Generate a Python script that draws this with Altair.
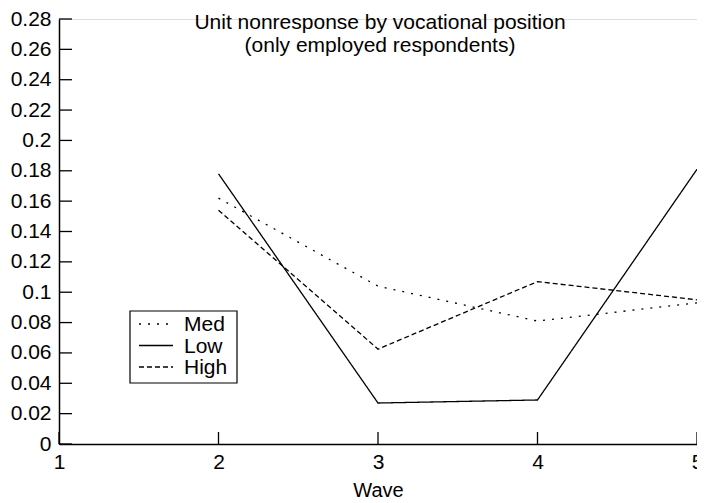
import altair as alt
import pandas as pd

# ---- data ----
waves = [2, 3, 4, 5]
series = ["Med", "Low", "High"]
med = [0.162, 0.104, 0.081, 0.093]
low = [0.178, 0.027, 0.029, 0.181]
high = [0.154, 0.0625, 0.107, 0.095]
x_ticks = [1, 2, 3, 4, 5]
y_ticks = [0, 0.02, 0.04, 0.06, 0.08, 0.1, 0.12, 0.14, 0.16, 0.18, 0.2, 0.22, 0.24, 0.26, 0.28]
title_lines = ["Unit nonresponse by vocational position", "(only employed respondents)"]

values = {"Med": med, "Low": low, "High": high}
rows = []
for s in series:
    for w, v in zip(waves, values[s]):
        rows.append({"wave": w, "rate": v, "series": s})
df = pd.DataFrame(rows)

W, H = 638, 425
FONT = "Liberation Sans"
FS_AX = 21
FS_XTITLE = 20
FS_TITLE = 21
FS_LEG = 21
dashes = {"Med": [2, 7], "Low": [1, 0], "High": [5, 3]}

xscale = alt.Scale(domain=[1, 5], nice=False, zero=False)
yscale = alt.Scale(domain=[0, 0.28], nice=False, zero=False)
dash_scale = alt.Scale(domain=series, range=[dashes[s] for s in series])

x_axis = alt.Axis(values=x_ticks, format="d", title="Wave", ticks=False, grid=False,
                  labelFlush=False, labelOverlap=False, labelPadding=7, titlePadding=8,
                  labelFontSize=FS_AX, titleFontSize=FS_XTITLE, titleFontWeight="normal",
                  labelFont=FONT, titleFont=FONT, labelColor="black", titleColor="black",
                  domainColor="black", domainWidth=1.5)
y_axis = alt.Axis(values=y_ticks, format="~g", title=None, ticks=False, grid=False,
                  labelFlush=False, labelOverlap=False, labelPadding=8,
                  labelFontSize=FS_AX, labelFont=FONT,
                  labelColor="black", domainColor="black", domainWidth=1.5)

lines = alt.Chart(df).mark_line(color="black", strokeWidth=1.3).encode(
    x=alt.X("wave:Q", scale=xscale, axis=x_axis),
    y=alt.Y("rate:Q", scale=yscale, axis=y_axis),
    strokeDash=alt.StrokeDash("series:N", scale=dash_scale, legend=None),
    detail="series:N",
)

ytick_rules = alt.Chart(pd.DataFrame({"v": y_ticks})).mark_rule(color="black", strokeWidth=1.3).encode(
    y=alt.Y("v:Q", scale=yscale, axis=y_axis), x=alt.value(0), x2=alt.value(13)
)
xtick_rules = alt.Chart(pd.DataFrame({"v": x_ticks})).mark_rule(color="black", strokeWidth=1.3).encode(
    x=alt.X("v:Q", scale=xscale, axis=x_axis), y=alt.value(H), y2=alt.value(H - 12)
)

one = pd.DataFrame({"k": [0]})
title_txt = alt.Chart(one).mark_text(
    text=title_lines, font=FONT, fontSize=FS_TITLE, align="center", baseline="alphabetic",
    lineHeight=23, color="black"
).encode(x=alt.value(W / 2 + 2), y=alt.value(10))

legend_box = alt.Chart(one).mark_rect(fill="white", stroke="black", strokeWidth=1.2).encode(
    x=alt.value(71), x2=alt.value(178), y=alt.value(292), y2=alt.value(364)
)

legend_layers = []
for i, s in enumerate(series):
    yy = 305 + i * 21.5
    legend_layers.append(
        alt.Chart(one).mark_rule(color="black", strokeWidth=1.3, strokeDash=dashes[s]).encode(
            x=alt.value(80), x2=alt.value(114), y=alt.value(yy)
        )
    )
    legend_layers.append(
        alt.Chart(one).mark_text(text=s, font=FONT, fontSize=FS_LEG, align="left",
                                 baseline="middle", color="black").encode(
            x=alt.value(125), y=alt.value(yy + 1)
        )
    )

chart = alt.layer(lines, ytick_rules, xtick_rules, title_txt, legend_box, *legend_layers).properties(
    width=W, height=H,
    autosize=alt.AutoSizeParams(type="none"),
    padding={"left": 51, "top": 11, "right": 0, "bottom": 57},
).configure_view(stroke=None).configure(background="white")

chart.save("out.html", embed_options={"renderer": "svg", "actions": False})
